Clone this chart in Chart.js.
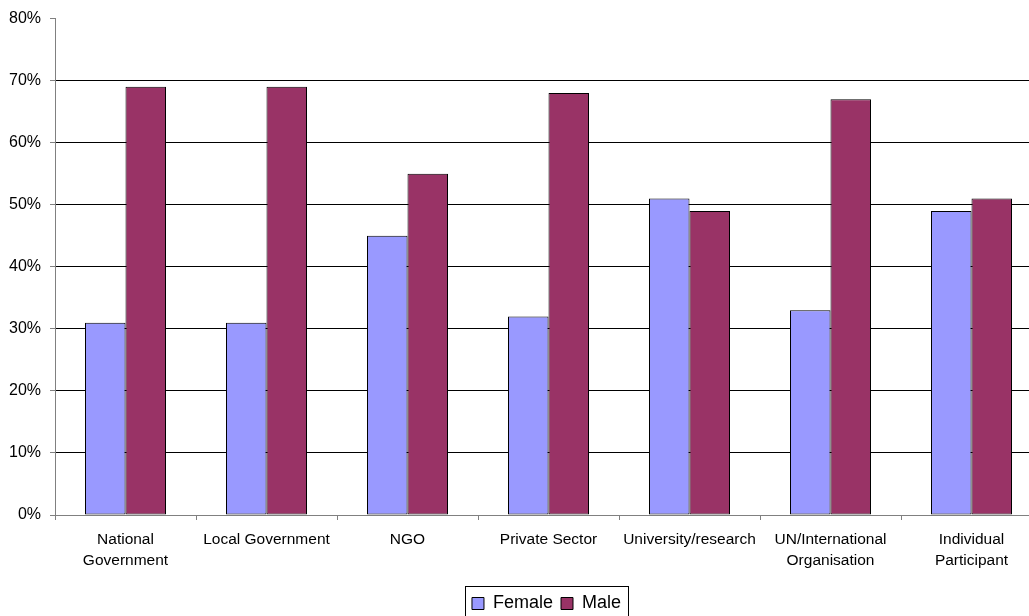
<!DOCTYPE html>
<html>
<head>
<meta charset="utf-8">
<script src="https://cdn.jsdelivr.net/npm/chart.js@4/dist/chart.umd.min.js"></script>
<style>
  html, body { margin: 0; padding: 0; background: #fff; overflow: hidden; }
  #wrap { position: absolute; left: 0; top: 0; width: 1045px; height: 630px; }
</style>
</head>
<body>
<div id="wrap"><canvas id="c" width="1045" height="630"></canvas></div>
<script>
const categories = [
  ['National', 'Government'],
  'Local Government',
  'NGO',
  'Private Sector',
  'University/research',
  ['UN/International', 'Organisation'],
  ['Individual', 'Participant']
];
const femaleValues = [31, 31, 45, 32, 51, 33, 49];
const maleValues = [69, 69, 55, 68, 49, 67, 51];
const yTicks = [0, 10, 20, 30, 40, 50, 60, 70, 80];

Chart.defaults.font.family = '"Liberation Sans", Arial, sans-serif';
Chart.defaults.color = '#000';

const legendPlugin = {
  id: 'legendShift',
  beforeDraw(chart) {
    const lg = chart.legend;
    if (!lg || !lg.legendHitBoxes || !lg.legendHitBoxes.length) return;
    const hb = lg.legendHitBoxes;
    const l = hb[0].left, r = hb[hb.length - 1].left + hb[hb.length - 1].width;
    const cy = hb[0].top + hb[0].height / 2;
    const dx = 546.5 - (l + r) / 2;
    const dy = 603.5 - cy;
    if (Math.abs(dx) > 0.01 || Math.abs(dy) > 0.01) {
      lg.left += dx; lg.right += dx; lg.top += dy; lg.bottom += dy;
      hb.forEach(h => { h.left += dx; h.top += dy; });
    }
  },
  afterDraw(chart) {
    const lg = chart.legend;
    if (!lg || !lg.legendHitBoxes || !lg.legendHitBoxes.length) return;
    const hb = lg.legendHitBoxes;
    const l = hb[0].left, r = hb[hb.length - 1].left + hb[hb.length - 1].width;
    const ctx = chart.ctx;
    ctx.save();
    ctx.strokeStyle = '#000';
    ctx.lineWidth = 1;
    ctx.strokeRect(Math.round(l - 7) + 0.5, 586.5, Math.round(r - l + 14), 40);
    ctx.restore();
  }
};

new Chart(document.getElementById('c'), {
  type: 'bar',
  data: {
    labels: categories,
    datasets: [
      { label: 'Female', data: femaleValues, backgroundColor: '#9999FF', borderColor: '#000', borderWidth: 1, borderSkipped: false, inflateAmount: 0 },
      { label: 'Male', data: maleValues, backgroundColor: '#993366', borderColor: '#000', borderWidth: 1, borderSkipped: false, inflateAmount: 0 }
    ]
  },
  options: {
    responsive: false,
    animation: false,
    devicePixelRatio: 1,
    datasets: { bar: { categoryPercentage: 81 / 141, barPercentage: 1 } },
    layout: { padding: { top: 10, right: 3, left: 0, bottom: 17 } },
    plugins: {
      tooltip: { enabled: false },
      legend: {
        position: 'bottom',
        labels: { font: { size: 18 }, boxWidth: 12, boxHeight: 12, padding: 8, color: '#000' }
      }
    },
    scales: {
      x: {
        grid: { offset: true, drawOnChartArea: false, drawTicks: true, tickLength: 5, tickColor: '#808080' },
        border: { color: '#808080' },
        ticks: { font: { size: 15.5, lineHeight: 1.3 }, maxRotation: 0, autoSkip: false, padding: 10, color: '#000' },
        afterFit(s) { s.height = 62; }
      },
      y: {
        min: 0, max: 80,
        afterBuildTicks(s) { s.ticks = yTicks.map(v => ({ value: v })); },
        grid: {
          color: ctx => (ctx.tick && ctx.tick.value === 80) ? 'rgba(0,0,0,0)' : '#000',
          tickColor: '#808080', tickLength: 5
        },
        border: { color: '#808080' },
        ticks: { font: { size: 16 }, padding: 9, color: '#000', callback: v => v + '%' },
        afterFit(s) { s.width = 55; }
      }
    }
  },
  plugins: [legendPlugin]
});
</script>
</body>
</html>
